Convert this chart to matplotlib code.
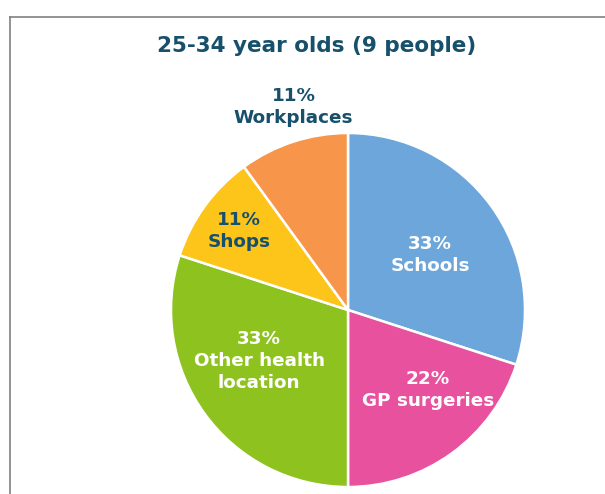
import numpy as np
import matplotlib
matplotlib.use("Agg")
from matplotlib import pyplot as plt
from matplotlib.lines import Line2D

title = "25-34 year olds (9 people)"
people = 9
places = ["Schools", "GP surgeries", "Other health\nlocation", "Shops", "Workplaces"]
counts = [3, 2, 3, 1, 1]
colors = ["#6CA6DA", "#E8519E", "#8DC21F", "#FDC41A", "#F7964A"]
text_colors = ["white", "white", "white", "#17506B", "#17506B"]

# label placement: fraction of radius and small angle tweak (deg)
label_r = [0.56, 0.64, 0.58, 0.76, 1.19]
label_dang = [-2, 9, -6, 0, -3]

W, H = 605, 494
fig = plt.figure(figsize=(W / 100, H / 100), dpi=100)
cx, cy, R = 348, 310, 177
ax = fig.add_axes([(cx - R) / W, (H - cy - R) / H, 2 * R / W, 2 * R / H])

wedges, _ = ax.pie(counts, colors=colors, startangle=90, counterclock=False,
                   wedgeprops=dict(edgecolor="white", linewidth=1.8))
ax.set_xlim(-1, 1)
ax.set_ylim(-1, 1)
ax.axis("off")

for w, name, n, r, da, tc in zip(wedges, places, counts, label_r, label_dang, text_colors):
    ang = np.deg2rad((w.theta1 + w.theta2) / 2 + da)
    pct = round(n / people * 100)
    ax.text(r * np.cos(ang), r * np.sin(ang), f"{pct}%\n{name}", ha="center", va="center",
            color=tc, fontsize=13.2, fontweight="bold", linespacing=1.28)

fig.text(317 / W, 1 - 46 / H, title, ha="center", va="center",
         fontsize=15.5, fontweight="bold", color="#17506B")

# outer frame of the chart area
fig.add_artist(Line2D([10 / W, 1], [1 - 17 / H, 1 - 17 / H], color="#808080", lw=1.2))
fig.add_artist(Line2D([10 / W, 10 / W], [0, 1 - 17 / H], color="#808080", lw=1.2))

fig.savefig("out.png", dpi=100)
